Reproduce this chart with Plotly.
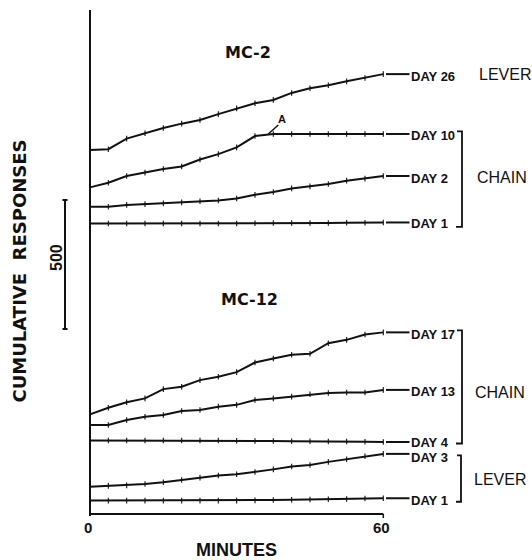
import plotly.graph_objects as go

# ---------------- data ----------------
minutes = [0, 3.75, 7.5, 11.25, 15, 18.75, 22.5, 26.25, 30, 33.75, 37.5,
           41.25, 45, 48.75, 52.5, 56.25, 60]

# MC-2 (cumulative responses since session start)
mc2_day26 = [0, 3, 44, 65, 85, 102, 116, 139, 161, 181, 194, 221, 239, 251, 266, 279, 294]
mc2_day10 = [0, 18, 44, 57, 71, 81, 108, 129, 155, 199, 207, 207, 207, 207, 207, 207, 207]
mc2_day2 = [0, 0, 7, 10, 13, 17, 21, 24, 32, 46, 57, 71, 79, 88, 101, 109, 119]
mc2_day1 = [0, 0, 0, 0, 0, 0, 0, 0, 0, 1, 2, 2, 2, 2, 3, 3, 4]

# MC-12
mc12_day17 = [0, 26, 47, 62, 98, 107, 133, 146, 164, 201, 217, 231, 235, 276, 289, 310, 318]
mc12_day13 = [0, 0, 19, 32, 39, 54, 58, 71, 78, 97, 103, 110, 119, 124, 126, 126, 136]
mc12_day4 = [0, 0, 0, 0, 0, 0, 0, 0, -1, -2, -2, -3, -3, -4, -4, -5, -6]
mc12_day3 = [0, 3, 5, 10, 17, 26, 35, 43, 48, 57, 67, 78, 84, 96, 106, 118, 127]
mc12_day1 = [0, 0, 0, 0, 0, 0, 0, 0, 0, 1, 2, 3, 4, 5, 6, 8, 9]

curve_labels = ["DAY 26", "DAY 10", "DAY 2", "DAY 1",
                "DAY 17", "DAY 13", "DAY 4", "DAY 3", "DAY 1"]
curve_values = [mc2_day26, mc2_day10, mc2_day2, mc2_day1,
                mc12_day17, mc12_day13, mc12_day4, mc12_day3, mc12_day1]
# vertical pen offset of each record (responses above the time axis)
curve_offsets = [1411, 1266, 1191, 1126, 386, 345, 285, 106, 52]

scale_value = 500
x_ticks = [0, 60]

# ---------------- layout helpers ----------------
W, H = 532, 560
X0_PX, X60_PX = 90, 383.3
Y0_PX = 514
PX_PER_MIN = (X60_PX - X0_PX) / 60
PX_PER_RESP = 129 / 500


def px_x(px):
    return (px - X0_PX) / PX_PER_MIN


def px_y(py):
    return (Y0_PX - py) / PX_PER_RESP


fig = go.Figure()
ends = []
for vals, off in zip(curve_values, curve_offsets):
    ys = [v + off for v in vals]
    ends.append(ys[-1])
    fig.add_trace(go.Scatter(
        x=minutes, y=ys, mode="lines+markers",
        line=dict(color="#111", width=2, shape="linear"),
        marker=dict(symbol="line-ns", size=4, line=dict(color="#111", width=1.1)),
        hoverinfo="skip", showlegend=False))

shapes = []
annotations = []
label_x = px_x(409.5)
dash_x0 = px_x(386)
label_shift = [-2, -2, -2, -1, -2, -2, 0, -4, -2]
for lab, yend, sh in zip(curve_labels, ends, label_shift):
    shapes.append(dict(type="line", xref="x", yref="y", x0=dash_x0, x1=label_x,
                       y0=yend, y1=yend, line=dict(color="#111", width=2)))
    annotations.append(dict(x=label_x, y=yend, xref="x", yref="y", text=lab,
                            showarrow=False, xanchor="left", yanchor="middle", yshift=sh,
                            borderpad=0,
                            font=dict(family="Liberation Sans, Arial", size=13,
                                      color="#111", weight="bold")))

# axes
shapes.append(dict(type="line", xref="x", yref="y", x0=0, x1=0, y0=px_y(516), y1=px_y(10),
                   line=dict(color="#111", width=2)))
shapes.append(dict(type="line", xref="x", yref="y", x0=0, x1=x_ticks[-1], y0=0, y1=0,
                   line=dict(color="#111", width=2)))
shapes.append(dict(type="line", xref="x", yref="y", x0=x_ticks[-1], x1=x_ticks[-1],
                   y0=0, y1=px_y(518), line=dict(color="#111", width=1.5)))

# scale bar
sb_x = px_x(65)
sb_y0 = px_y(329)
sb_y1 = sb_y0 + scale_value
shapes.append(dict(type="line", xref="x", yref="y", x0=sb_x, x1=sb_x, y0=sb_y0, y1=sb_y1,
                   line=dict(color="#111", width=2)))
for yy in (sb_y0, sb_y1):
    shapes.append(dict(type="line", xref="x", yref="y", x0=px_x(62.5), x1=px_x(67.5),
                       y0=yy, y1=yy, line=dict(color="#111", width=2)))


# brackets
def bracket(y_top, y_bot, xv_px):
    shapes.append(dict(type="path", xref="x", yref="y",
                       path=f"M {px_x(457)},{y_top} L {px_x(xv_px)},{y_top} "
                            f"L {px_x(xv_px)},{y_bot} L {px_x(456)},{y_bot}",
                       line=dict(color="#111", width=1.8)))


bracket(ends[1] + 2.5 / PX_PER_RESP, ends[3] - 4.5 / PX_PER_RESP, 462)
bracket(ends[4] + 2 / PX_PER_RESP, ends[6] - 1.5 / PX_PER_RESP, 462)
bracket(ends[7] - 1.5 / PX_PER_RESP, ends[8] - 3.5 / PX_PER_RESP, 461)

group_font = dict(family="Liberation Sans, Arial", size=16, color="#111")
annotations += [
    dict(x=px_x(477), y=ends[0], text="LEVER", xanchor="left", yanchor="middle", font=group_font),
    dict(x=px_x(475), y=px_y(177.5), text="CHAIN", xanchor="left", yanchor="middle", font=group_font),
    dict(x=px_x(473), y=px_y(392.5), text="CHAIN", xanchor="left", yanchor="middle", font=group_font),
    dict(x=px_x(472), y=px_y(479), text="LEVER", xanchor="left", yanchor="middle", font=group_font),
]

bold = dict(family="DejaVu Sans", size=16, color="#111", weight="bold")
annotations += [
    dict(x=px_x(248), y=px_y(52), text="MC-2", xanchor="center", yanchor="middle", font=bold),
    dict(x=px_x(249), y=px_y(299.5), text="MC-12", xanchor="center", yanchor="middle", font=bold),
    dict(x=px_x(19), y=px_y(271.5), text="CUMULATIVE\u00a0\u00a0RESPONSES", textangle=-90,
         xanchor="center", yanchor="middle",
         font=dict(family="DejaVu Sans", size=18, color="#111", weight="bold")),
    dict(x=px_x(56), y=px_y(258), text=str(scale_value), textangle=-90,
         xanchor="center", yanchor="middle",
         font=dict(family="Liberation Sans, Arial", size=16, color="#111", weight="bold")),
    dict(x=(x_ticks[0] + x_ticks[-1]) / 2, y=px_y(550), text="MINUTES",
         xanchor="center", yanchor="middle",
         font=dict(family="Liberation Sans, Arial", size=18, color="#111", weight="bold")),
    dict(x=px_x(282), y=px_y(119), text="A", xanchor="center", yanchor="middle",
         font=dict(family="Liberation Sans, Arial", size=11, color="#111", weight="bold")),
]
for t in x_ticks:
    annotations.append(dict(x=t - px_x(92) + px_x(90) if t == 0 else t - 0.35, y=px_y(527.5),
                            text=str(t), xanchor="center", yanchor="middle",
                            font=dict(family="Liberation Sans, Arial", size=15, color="#111",
                                      weight="bold")))
shapes.append(dict(type="line", xref="x", yref="y", x0=px_x(268.3), x1=px_x(278.3),
                   y0=mc2_day10[-1] + curve_offsets[1], y1=px_y(125),
                   line=dict(color="#111", width=1.5)))

for a in annotations:
    a.setdefault("xref", "x")
    a.setdefault("yref", "y")
    a.setdefault("showarrow", False)

fig.update_layout(
    width=W, height=H, margin=dict(l=0, r=0, t=0, b=0),
    paper_bgcolor="white", plot_bgcolor="white",
    xaxis=dict(visible=False, range=[px_x(0), px_x(W)], fixedrange=True),
    yaxis=dict(visible=False, range=[px_y(H), px_y(0)], fixedrange=True),
    shapes=shapes, annotations=annotations, showlegend=False,
)
fig.write_html("out.html")
